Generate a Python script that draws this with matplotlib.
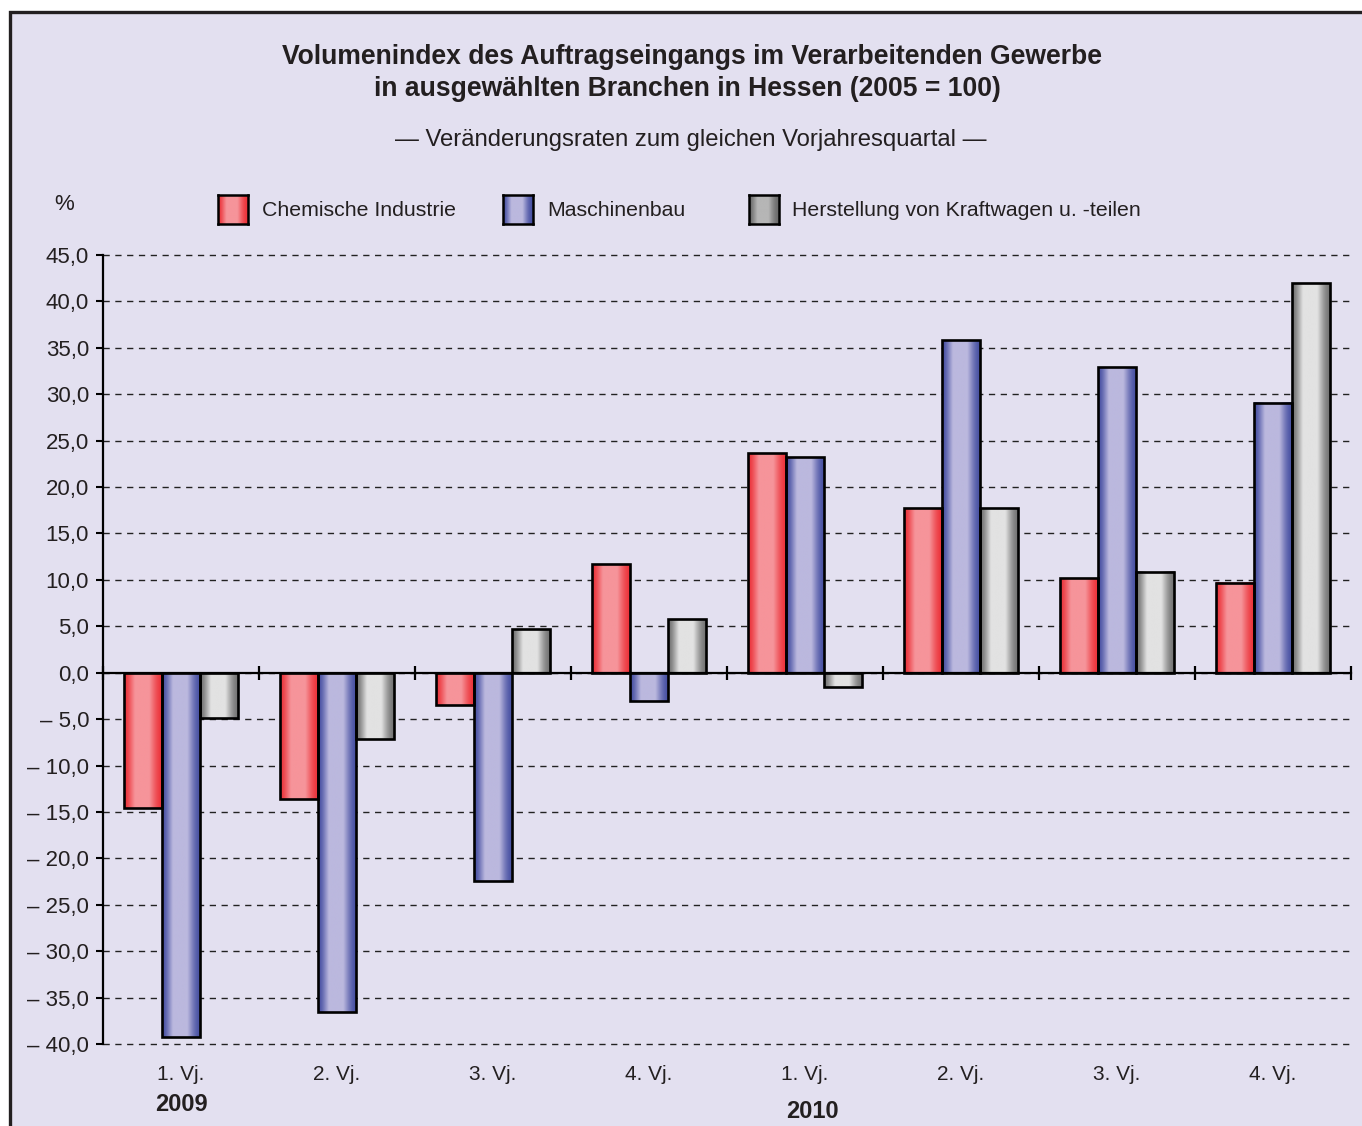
import numpy as np
import matplotlib
matplotlib.use("Agg")
import matplotlib.pyplot as plt
from matplotlib.patches import Rectangle
from matplotlib import transforms

plt.rcParams["font.family"] = ["Liberation Sans", "DejaVu Sans"]

# data
quarters = ["1. Vj.", "2. Vj.", "3. Vj.", "4. Vj.", "1. Vj.", "2. Vj.", "3. Vj.", "4. Vj."]
series_names = ["Chemische Industrie", "Maschinenbau", "Herstellung von Kraftwagen u. -teilen"]
chemie = [-14.6, -13.6, -3.5, 11.7, 23.7, 17.7, 10.2, 9.7]
maschinen = [-39.2, -36.6, -22.4, -3.1, 23.2, 35.8, 32.9, 29.1]
kraftwagen = [-4.9, -7.1, 4.7, 5.8, -1.5, 17.7, 10.9, 42.0]
yticks = np.arange(-40, 46, 5)

bg = "#e3e0f0"
txt = "#231f20"
# (edge colour, centre colour) for the horizontal gradients
grads = [("#ec343b", "#f6949a"), ("#4851a3", "#bbb8de"), ("#747474", "#e2e2e2")]
leg_grads = [("#ec343b", "#f6949a"), ("#4851a3", "#bbb8de"), ("#6c6c6c", "#b6b6b6")]


def grad_img(edge, mid, n=100):
    e = np.array(matplotlib.colors.to_rgb(edge))
    m = np.array(matplotlib.colors.to_rgb(mid))
    t = np.linspace(0, 1, n) ** 0.9
    w = np.clip(np.sin(np.pi * t) ** 2 * 1.4, 0, 1)
    return (e[None, :] * (1 - w[:, None]) + m[None, :] * w[:, None])[None, :, :]


fig = plt.figure(figsize=(13.62, 11.26), dpi=100, facecolor="white")
fig.patches.append(Rectangle((10 / 1362, -0.1), 1.2, 1 - 12 / 1126 + 0.1,
                             transform=fig.transFigure, facecolor=bg,
                             edgecolor=txt, lw=2.4, zorder=-10))

ax = fig.add_axes([103 / 1362, 1 - 1044 / 1126, 1248 / 1362, 789 / 1126])
ax.set_facecolor("none")

width = 0.245
values = [chemie, maschinen, kraftwagen]
for k, vals in enumerate(values):
    img = grad_img(*grads[k])
    for i, v in enumerate(vals):
        xc = i + 0.5 + (k - 1) * width
        ax.imshow(img, extent=[xc - width / 2, xc + width / 2, min(0, v), max(0, v)],
                  aspect="auto", interpolation="bilinear", zorder=3)
        ax.bar(xc, v, width, facecolor="none", edgecolor="black", lw=1.9, zorder=4)

ax.set_xlim(0, 8)
ax.set_ylim(-40, 45)

ax.set_yticks(yticks)
ax.set_yticklabels([f"{y:.1f}".replace(".", ",") if y >= 0
                    else "\u2013 " + f"{-y:.1f}".replace(".", ",") for y in yticks],
                   fontsize=16, color=txt)
ax.tick_params(axis="y", direction="out", length=5, width=1.5, pad=5)
ax.yaxis.grid(True, linestyle=(0, (4.5, 4)), color="#222222", lw=1.0)
for gl in ax.get_ygridlines():
    gl.set_clip_on(False)
ax.set_axisbelow(True)

for s in ["top", "right"]:
    ax.spines[s].set_visible(False)
ax.spines["left"].set_linewidth(1.6)
ax.spines["bottom"].set_position(("data", 0))
ax.spines["bottom"].set_linewidth(1.6)
ax.spines["bottom"].set_zorder(5)
ax.set_xticks(np.arange(0, 9))
ax.set_xticklabels([])
ax.tick_params(axis="x", direction="inout", length=10, width=1.6)

trans = transforms.blended_transform_factory(ax.transData, ax.transAxes)
for i, q in enumerate(quarters):
    ax.text(i + 0.5, -0.039, q, transform=trans, ha="center", va="center",
            fontsize=15, color=txt)
ax.text(0.5, -0.077, "2009", transform=trans, ha="center", va="center",
        fontsize=17, fontweight="bold", color=txt)
ax.text(4.55, -0.0855, "2010", transform=trans, ha="center", va="center",
        fontsize=17, fontweight="bold", color=txt)

fig.text(692 / 1362, 1 - 57 / 1126, "Volumenindex des Auftragseingangs im Verarbeitenden Gewerbe",
         ha="center", va="center", fontsize=19.1, fontweight="bold", color=txt)
fig.text(687 / 1362, 1 - 89 / 1126, "in ausgewählten Branchen in Hessen (2005 = 100)",
         ha="center", va="center", fontsize=19.1, fontweight="bold", color=txt)
fig.text(691 / 1362, 1 - 140 / 1126, "\u2014 Veränderungsraten zum gleichen Vorjahresquartal \u2014",
         ha="center", va="center", fontsize=17.2, color=txt)
fig.text(64 / 1362, 1 - 205 / 1126, "%", ha="center", va="center", fontsize=16, color=txt)

# legend
leg_box_x = [218, 503, 749]
leg_text_x = [262, 547, 792]
for k, name in enumerate(series_names):
    lax = fig.add_axes([leg_box_x[k] / 1362, 1 - 224 / 1126, 30 / 1362, 29 / 1126])
    lax.imshow(grad_img(*leg_grads[k]), aspect="auto", interpolation="bilinear")
    lax.set_xticks([])
    lax.set_yticks([])
    for s in lax.spines.values():
        s.set_linewidth(1.8)
    fig.text(leg_text_x[k] / 1362, 1 - 210 / 1126, name, ha="left", va="center",
             fontsize=15.3, color=txt)

fig.savefig("out.png", dpi=100, facecolor=fig.get_facecolor())
